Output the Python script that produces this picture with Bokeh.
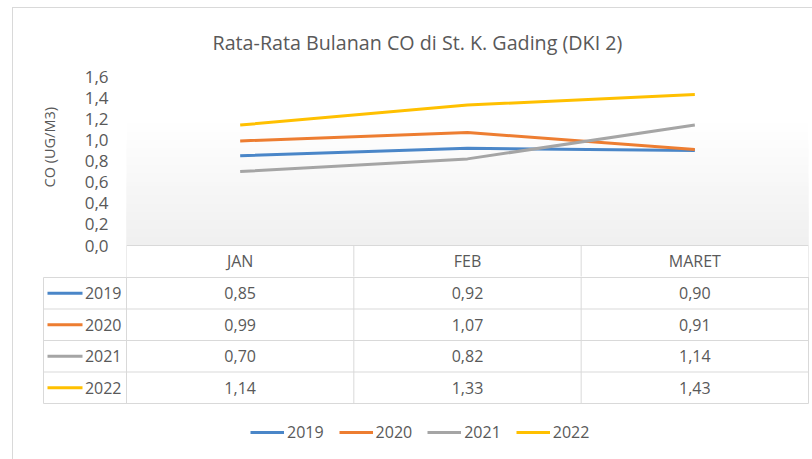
from bokeh.plotting import figure
from bokeh.models import (Range1d, FactorRange, FixedTicker, CustomJSTickFormatter, Title,
                          BoxAnnotation, Legend, LegendItem)
from bokeh.layouts import column
from bokeh.embed import file_html
from bokeh.resources import INLINE
from bokeh.core.properties import value

# ---------------- data ----------------
months = ["JAN", "FEB", "MARET"]
years = ["2019", "2020", "2021", "2022"]
co_2019 = [0.85, 0.92, 0.90]
co_2020 = [0.99, 1.07, 0.91]
co_2021 = [0.70, 0.82, 1.14]
co_2022 = [1.14, 1.33, 1.43]
y_ticks = [0.0, 0.2, 0.4, 0.6, 0.8, 1.0, 1.2, 1.4, 1.6]
title_text = "Rata-Rata Bulanan CO di St. K. Gading (DKI 2)"
y_title = "CO  (UG/M3)"

series = [co_2019, co_2020, co_2021, co_2022]
colors = ["#4A86C8", "#ED7D31", "#A5A5A5", "#FFC000"]

FONT = "Open Sans"
TXT = "#595959"
GRID = "#D9D9D9"
W = 799

# ---------------- chart + header row (top figure) ----------------
px_per_unit = 169 / 1.6
head_h = 31 / px_per_unit
p1 = figure(width=W, height=268,
            x_range=FactorRange(*months, range_padding=0),
            y_range=Range1d(-head_h, y_ticks[-1]),
            output_backend="svg", toolbar_location=None, x_axis_location=None,
            min_border_left=113, min_border_right=4, min_border_top=68, min_border_bottom=0)
p1.grid.visible = False
p1.outline_line_color = None
p1.background_fill_color = "white"
p1.border_fill_color = "white"

p1.title.text = title_text
p1.title.align = "left"
p1.title.vertical_align = "top"
p1.title.offset = 86
p1.title.standoff = 38
p1.title.text_font = FONT
p1.title.text_font_size = "19.7px"
p1.title.text_font_style = "normal"
p1.title.text_color = TXT

# subtle vertical gradient of the plot area
n = 40
top = y_ticks[-1]
for i in range(n):
    t = top * (1 - i / n)
    frac = 1 - t / top
    g = 255 - int(round(max(0.0, (frac - 0.25) / 0.75) * 16))
    p1.add_layout(BoxAnnotation(bottom=0, top=t, fill_color="#%02x%02x%02x" % (g, g, g),
                                fill_alpha=1, line_color=None, level="underlay"))

for yr, vals, c in zip(years, series, colors):
    p1.line(x=months, y=vals, line_color=c, line_width=3, line_join="round")

ax = p1.yaxis[0]
ax.ticker = FixedTicker(ticks=y_ticks)
ax.formatter = CustomJSTickFormatter(code="return tick.toFixed(1).replace('.', ',');")
ax.axis_line_color = None
ax.major_tick_line_color = None
ax.minor_tick_line_color = None
ax.major_tick_out = 0
ax.major_label_standoff = 18
ax.major_label_text_font = FONT
ax.major_label_text_font_size = "17px"
ax.major_label_text_color = TXT

ytitle = Title(text=y_title, align="left", vertical_align="top", offset=89, standoff=42,
               text_font=FONT, text_font_size="14.5px", text_font_style="normal", text_color=TXT)
p1.add_layout(ytitle, "left")

# header row of the data table
edges = [(m, -0.5) for m in months] + [(months[-1], 0.5)]
p1.segment(x0=[(months[0], -0.5)], x1=[(months[-1], 0.5)], y0=[0], y1=[0],
           line_color=GRID, line_width=1)
p1.segment(x0=edges, x1=edges, y0=[0] * len(edges), y1=[-2 * head_h] * len(edges),
           line_color=GRID, line_width=1)
p1.text(x=months, y=[-head_h / 2] * len(months), text=months,
        text_align="center", text_baseline="middle", text_font=value(FONT),
        text_font_size="16px", text_color=TXT)

# ---------------- data rows + legend (bottom figure) ----------------
col_w = 682 / 3.0
row_h = 31.5
key_w = 83
xL = -0.5 - key_w / col_w
nrow = len(years) + 1
p2 = figure(width=W, height=183,
            x_range=Range1d(-0.5 - (key_w + 2) / col_w, len(months) - 0.5 + 2 / col_w),
            y_range=Range1d(1 + 182 / row_h, 1 - 1 / row_h),
            output_backend="svg", toolbar_location=None,
            x_axis_location=None, y_axis_location=None,
            min_border_left=28, min_border_right=2, min_border_top=0, min_border_bottom=0)
p2.grid.visible = False
p2.outline_line_color = None
p2.background_fill_color = "white"
p2.border_fill_color = "white"

# do not align the frames of the two figures
for p in (p1, p2):
    if "frame_align" in p.properties():
        p.frame_align = False

# grid lines of the table
hy = list(range(1, nrow + 1))
p2.segment(x0=[xL] * len(hy), x1=[len(months) - 0.5] * len(hy), y0=hy, y1=hy,
           line_color=GRID, line_width=1)
vx = [j - 0.5 for j in range(len(months) + 1)]
p2.segment(x0=vx, x1=vx, y0=[0.5] * len(vx), y1=[nrow] * len(vx), line_color=GRID, line_width=1)
p2.segment(x0=[xL], x1=[xL], y0=[1], y1=[nrow], line_color=GRID, line_width=1)

# values
tx, ty, tt = [], [], []
for i, vals in enumerate(series):
    for j, v in enumerate(vals):
        tx.append(j); ty.append(i + 1.5); tt.append(("%.2f" % v).replace(".", ","))
p2.text(x=tx, y=ty, text=tt, text_align="center", text_baseline="middle",
        text_font=value(FONT), text_font_size="16px", text_color=TXT)

# legend keys in the table
key_renderers = []
for i, (yr, c) in enumerate(zip(years, colors)):
    r = p2.line(x=[-0.5 - 79 / col_w, -0.5 - 44 / col_w], y=[i + 1.5, i + 1.5],
                line_color=c, line_width=3)
    key_renderers.append(r)
p2.text(x=[-0.5 - 5 / col_w] * len(years), y=[i + 1.5 for i in range(len(years))], text=years,
        text_align="right", text_baseline="middle", text_font=value(FONT),
        text_font_size="16px", text_color=TXT)

legend = Legend(items=[LegendItem(label=yr, renderers=[r]) for yr, r in zip(years, key_renderers)],
                orientation="horizontal", location=(209, 16),
                label_text_font=FONT, label_text_font_size="16px", label_text_color=TXT,
                glyph_width=34, glyph_height=20, label_height=20, label_standoff=3, spacing=15,
                padding=0, margin=0, border_line_color=None, background_fill_alpha=0)
p2.add_layout(legend)

layout = column(p1, p2, margin=(7, 0, 0, 12),
                styles={"border-left": "1px solid #D9D9D9", "border-top": "1px solid #D9D9D9"})

open("out.html", "w").write(file_html(layout, INLINE))
